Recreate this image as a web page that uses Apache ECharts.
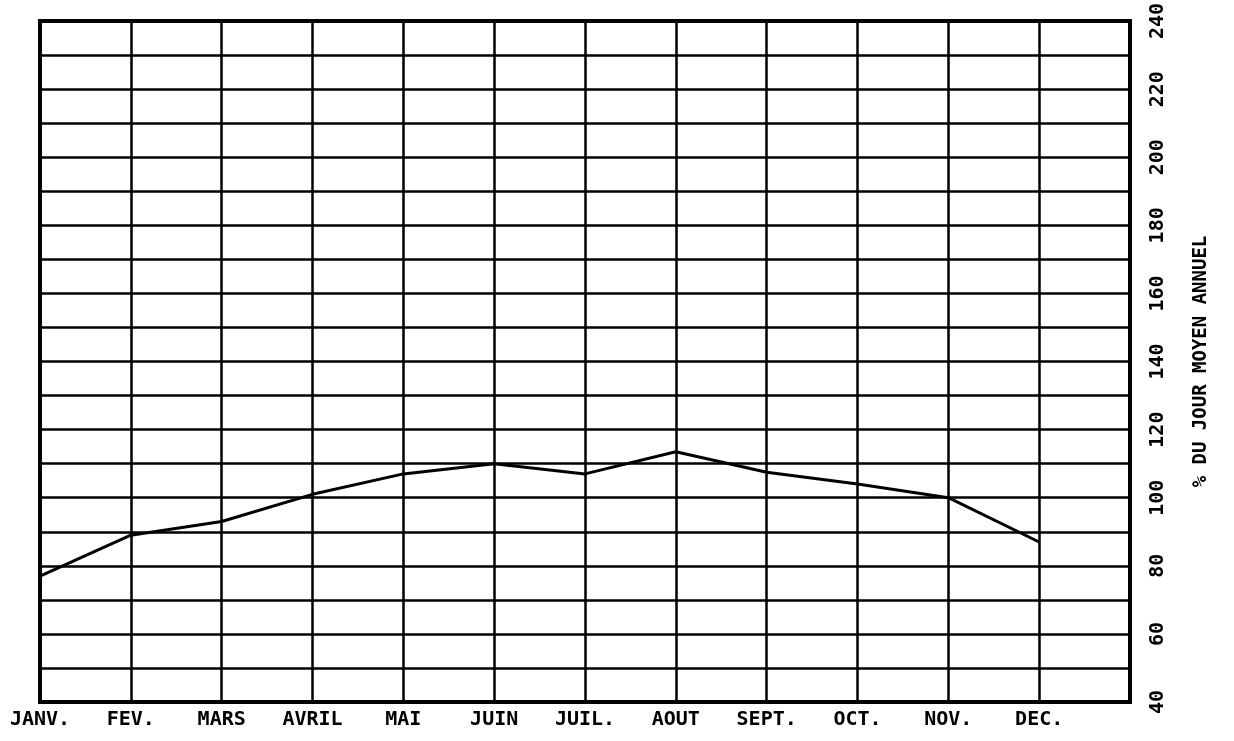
<!DOCTYPE html>
<html>
<head>
<meta charset="utf-8">
<script src="https://cdn.jsdelivr.net/npm/echarts@6/dist/echarts.min.js"></script>
<style>
html,body{margin:0;padding:0;background:#fff;}
#c{width:1234px;height:741px;}
</style>
</head>
<body>
<div id="c"></div>
<script>
const months = ['JANV.', 'FEV.', 'MARS', 'AVRIL', 'MAI', 'JUIN', 'JUIL.', 'AOUT', 'SEPT.', 'OCT.', 'NOV.', 'DEC.', ''];
const values = [77, 89, 93, 101, 107, 110, 107, 113.5, 107.5, 104, 100, 87];
const yName = '% DU JOUR MOYEN ANNUEL';
const yMin = 40, yMax = 240, yStep = 10, yLabelStep = 20;

const font = 'DejaVu Sans Mono';
const chart = echarts.init(document.getElementById('c'));
chart.setOption({
  animation: false,
  backgroundColor: '#fff',
  grid: {
    left: 40, right: 104, top: 20, bottom: 39,
    show: true, borderColor: '#000', borderWidth: 4, backgroundColor: 'transparent'
  },
  xAxis: {
    type: 'category',
    data: months,
    boundaryGap: false,
    axisLine: { show: true, lineStyle: { color: '#000', width: 4 } },
    axisTick: { show: false },
    splitLine: { show: true, lineStyle: { color: '#000', width: 2.5 } },
    axisLabel: {
      color: '#000', fontFamily: font, fontWeight: 'bold', fontSize: 20,
      margin: 8, interval: 0
    }
  },
  yAxis: {
    type: 'value',
    position: 'right',
    min: yMin, max: yMax, interval: yStep,
    name: yName,
    nameLocation: 'middle',
    nameRotate: 90,
    nameGap: 62,
    nameTextStyle: { color: '#000', fontFamily: font, fontWeight: 'bold', fontSize: 19 },
    axisLine: { show: true, lineStyle: { color: '#000', width: 4 } },
    axisTick: { show: false },
    splitLine: { show: true, lineStyle: { color: '#000', width: 2.5 } },
    axisLabel: {
      color: '#000', fontFamily: font, fontWeight: 'bold', fontSize: 20,
      rotate: 90, margin: 18,
      formatter: v => (v % yLabelStep === 0 ? String(v) : '')
    }
  },
  series: [{
    type: 'line',
    data: values,
    symbol: 'none',
    lineStyle: { color: '#000', width: 3 }
  }]
});
</script>
</body>
</html>
